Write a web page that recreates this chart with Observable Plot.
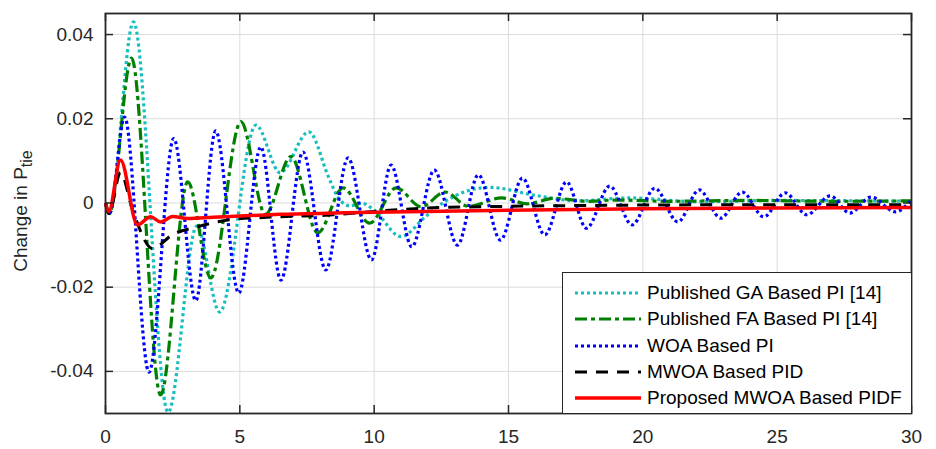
<!DOCTYPE html>
<html>
<head>
<meta charset="utf-8">
<script src="https://cdn.jsdelivr.net/npm/d3@7"></script>
<script src="https://cdn.jsdelivr.net/npm/@observablehq/plot@0.6"></script>
<style>
  html, body { margin: 0; padding: 0; background: #fff; }
  #wrap { position: relative; width: 936px; height: 449px; font-family: "Liberation Sans", Arial, Helvetica, sans-serif; color: #262626; }
  #ylab { position: absolute; left: 24px; top: 211px; transform: translate(-50%, -50%) rotate(-90deg); white-space: nowrap; font-size: 19px; line-height: 22px; }
  #ylab sub { font-size: 16px; vertical-align: -5px; }
  #legend { position: absolute; left: 562px; top: 272px; width: 350px; height: 142px; box-sizing: border-box; border: 1px solid #262626; background: #fff; }
  .row { position: absolute; left: 0; height: 26px; width: 100%; }
  .row svg { position: absolute; left: 11px; top: 0; }
  .row span { position: absolute; left: 84px; top: 2px; font-size: 19px; line-height: 22px; color: #000; white-space: nowrap; }
</style>
</head>
<body>
<div id="wrap"></div>
<script>
// ---- data ----
const xTicks = [0, 5, 10, 15, 20, 25, 30];
const yTicks = [-0.04, -0.02, 0, 0.02, 0.04];

const gaT = [0, 0.14, 1.04, 2.33, 3.4, 4.25, 5.6, 6.5, 7.57, 8.3, 8.65, 9.1, 9.55, 10.0, 11.0, 11.9, 12.6, 14.3, 16.0, 17.6, 19.5, 22, 25, 30];
const gaY = [0, -0.0025, 0.043, -0.0497, -0.0055, -0.0259, 0.0185, 0.0072, 0.0169, 0.0062, 0.0014, -0.0007, -0.0001, -0.0017, -0.008, -0.0033, 0.0002, 0.0037, 0.0018, 0.0005, 0.0012, 0.0003, 0.0006, 0.0004];

const faT = [0, 0.14, 0.97, 2.05, 3.06, 3.92, 5.04, 5.95, 6.9, 7.9, 8.85, 9.83, 10.82, 11.75, 12.65, 13.5, 14.75, 15.7, 16.7, 18, 19, 21, 24, 27, 30];
const faY = [0, -0.0025, 0.0344, -0.0456, 0.005, -0.0178, 0.0193, -0.0027, 0.011, -0.0071, 0.0036, -0.0048, 0.0036, -0.0009, 0.0026, -0.0008, 0.0012, -0.0002, 0.0011, 0.0004, 0.0007, 0.0004, 0.0006, 0.0004, 0.0005];

const woaT = [0, 0.15, 0.71, 1.62, 2.54, 3.36, 4.1, 4.96, 5.78, 6.53, 7.35, 8.2, 9.03, 9.9, 10.63, 11.4, 12.24, 13.1, 13.88, 14.7, 15.52, 16.35, 17.16, 17.9, 18.77, 19.6, 20.45, 21.3, 22.1, 22.9, 23.7, 24.5, 25.3, 26.1, 26.98, 27.7, 28.5, 29.4, 30];
const woaY = [0, -0.0025, 0.0204, -0.0402, 0.0153, -0.0232, 0.0171, -0.0214, 0.0133, -0.0183, 0.0121, -0.0159, 0.0107, -0.0135, 0.009, -0.0104, 0.0078, -0.01, 0.0067, -0.0088, 0.0059, -0.0076, 0.005, -0.006, 0.004, -0.0052, 0.0035, -0.0045, 0.0031, -0.0036, 0.0026, -0.0033, 0.0024, -0.0028, 0.0017, -0.0024, 0.0014, -0.0021, 0.0008];

const pidT = [0, 0.13, 0.56, 1.0, 1.75, 2.5, 3.4, 4.5, 6, 8.5, 10, 12, 15, 20, 25, 30];
const pidY = [0, -0.0025, 0.0072, -0.0015, -0.0108, -0.0075, -0.0057, -0.0041, -0.0034, -0.0028, -0.002, -0.0012, -0.0008, -0.0005, -0.0004, -0.0004];

const pidfT = [0, 0.12, 0.56, 1.19, 1.68, 2.05, 2.5, 3.06, 4, 5, 6.5, 8.5, 10, 15, 20, 25, 30];
const pidfY = [0, -0.002, 0.0102, -0.0052, -0.0033, -0.0045, -0.0032, -0.0037, -0.0034, -0.0031, -0.0027, -0.0024, -0.0022, -0.0017, -0.0014, -0.0012, -0.0011];

const seriesNames = ["Published GA Based PI [14]", "Published FA Based PI [14]", "WOA Based PI", "MWOA Based PID", "Proposed MWOA Based PIDF"];
const seriesColors = ["#17bebe", "#008000", "#0000ff", "#000000", "#ff0000"];
const seriesDash = ["3,3", "12,4,4,4", "3,3", "12,9", null];
const seriesWidth = [3.2, 3.2, 3.2, 3, 3.5];

// ---- build ----
const toRows = (T, Y) => T.map((t, i) => ({t, v: Y[i]}));
const datasets = [toRows(gaT, gaY), toRows(faT, faY), toRows(woaT, woaY), toRows(pidT, pidY), toRows(pidfT, pidfY)];
const fmt = d => d === 0 ? "0" : (d < 0 ? "-" : "") + Math.abs(d).toFixed(2);

const W = 936, H = 449, mL = 105, mR = 25, mT = 13, mB = 36;
const innerH = H - mT - mB, innerW = W - mL - mR, tick = 8;

const lineMarks = datasets.map((data, i) => Plot.line(data, {
  x: "t", y: "v", curve: "monotone-x",
  stroke: seriesColors[i], strokeWidth: seriesWidth[i],
  strokeDasharray: seriesDash[i] || undefined, strokeLinecap: "butt", strokeLinejoin: "round"
}));

const chart = Plot.plot({
  width: W, height: H,
  marginLeft: mL, marginRight: mR, marginTop: mT, marginBottom: mB,
  style: {fontFamily: '"Liberation Sans", Arial, Helvetica, sans-serif', fontSize: "19px", color: "#262626", background: "transparent"},
  x: {domain: [0, 30]},
  y: {domain: [-0.05, 0.045]},
  marks: [
    Plot.ruleX(xTicks, {x: d => d, stroke: "#dcdcdc", strokeWidth: 1}),
    Plot.ruleY(yTicks, {y: d => d, stroke: "#dcdcdc", strokeWidth: 1}),
    ...lineMarks,
    Plot.ruleX(xTicks, {x: d => d, insetTop: innerH - tick, stroke: "#262626", strokeWidth: 1.5}),
    Plot.ruleX(xTicks, {x: d => d, insetBottom: innerH - tick, stroke: "#262626", strokeWidth: 1.5}),
    Plot.ruleY(yTicks, {y: d => d, insetRight: innerW - tick, stroke: "#262626", strokeWidth: 1.5}),
    Plot.ruleY(yTicks, {y: d => d, insetLeft: innerW - tick, stroke: "#262626", strokeWidth: 1.5}),
    Plot.frame({stroke: "#262626", strokeWidth: 1.8}),
    Plot.axisX(xTicks, {tickSize: 0, tickPadding: 16, label: null, tickFormat: d => String(d), fill: "#262626"}),
    Plot.axisY(yTicks, {tickSize: 0, tickPadding: 12, label: null, tickFormat: fmt, fill: "#262626"})
  ]
});

const wrap = document.getElementById("wrap");
wrap.appendChild(chart);

const ylab = document.createElement("div");
ylab.id = "ylab";
ylab.innerHTML = "Change in P<sub>tie</sub>";
wrap.appendChild(ylab);

const legend = document.createElement("div");
legend.id = "legend";
seriesNames.forEach((name, i) => {
  const row = document.createElement("div");
  row.className = "row";
  row.style.top = (7 + i * 26.3) + "px";
  const dash = seriesDash[i] ? `stroke-dasharray="${seriesDash[i]}"` : "";
  row.innerHTML = `<svg width="68" height="26"><line x1="1" x2="67" y1="13" y2="13" stroke="${seriesColors[i]}" stroke-width="${seriesWidth[i]}" ${dash}/></svg><span>${name}</span>`;
  legend.appendChild(row);
});
wrap.appendChild(legend);
</script>
</body>
</html>
